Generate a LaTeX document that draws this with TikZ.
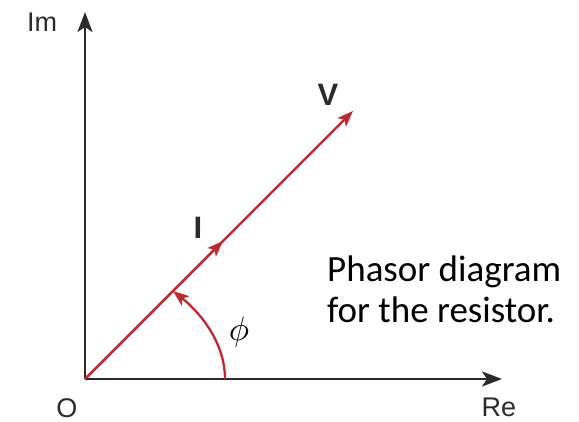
\documentclass[tikz,border=0pt]{standalone}
\usepackage{fontspec}
\setmainfont{Liberation Sans}
\newfontfamily\capfont{Carlito}
\usetikzlibrary{arrows.meta}
\definecolor{axisgray}{HTML}{2B2B2B}
\definecolor{phred}{HTML}{C1272D}
\tikzset{
  axis/.style={draw=axisgray, line width=2.6pt, -{Stealth[length=20pt,width=15pt,inset=5pt]}},
  vec/.style={draw=phred, line width=2.3pt, -{Stealth[length=16pt,width=12pt,inset=4pt]}},
  axlabel/.style={font=\fontsize{27}{30}\selectfont, text=axisgray, inner sep=0pt},
  veclabel/.style={font=\fontsize{31}{34}\selectfont\bfseries, text=axisgray},
  caption/.style={font=\capfont\fontsize{37}{41}\selectfont, anchor=base west, inner sep=0pt}
}
\begin{document}
\begin{tikzpicture}[x=1pt,y=-1pt]
\useasboundingbox (0,0) rectangle (579,422);
\coordinate (O) at (85,379);
\coordinate (Ytip) at (85,12);
\coordinate (Xtip) at (502,379);
\coordinate (Vtip) at (353,111);
\coordinate (Itip) at (223,241);
\coordinate (Astart) at (225,379);
\coordinate (Aend) at (173,291);
\draw[axis] (O) -- (Ytip);
\draw[axis] (O) -- (Xtip);
\draw[vec] (O) -- (Vtip);
\draw[vec] (O) -- (Itip);
\draw[vec] (Astart) .. controls (225,340) and (197,310) .. (Aend);
\node[axlabel] (im) at (42,22) {Im};
\node[axlabel] (re) at (499,407) {Re};
\node[axlabel] (orig) at (67,408) {O};
\node[veclabel] (vl) at (328,95) {V};
\node[veclabel] (il) at (198,228) {I};
\node[scale=3.4, inner sep=0pt] (phi) at (239,332) {$\phi$};
\node[caption] (cap1) at (327,282) {Phasor diagram};
\node[caption] (cap2) at (327,323) {for the resistor.};
\end{tikzpicture}
\end{document}
